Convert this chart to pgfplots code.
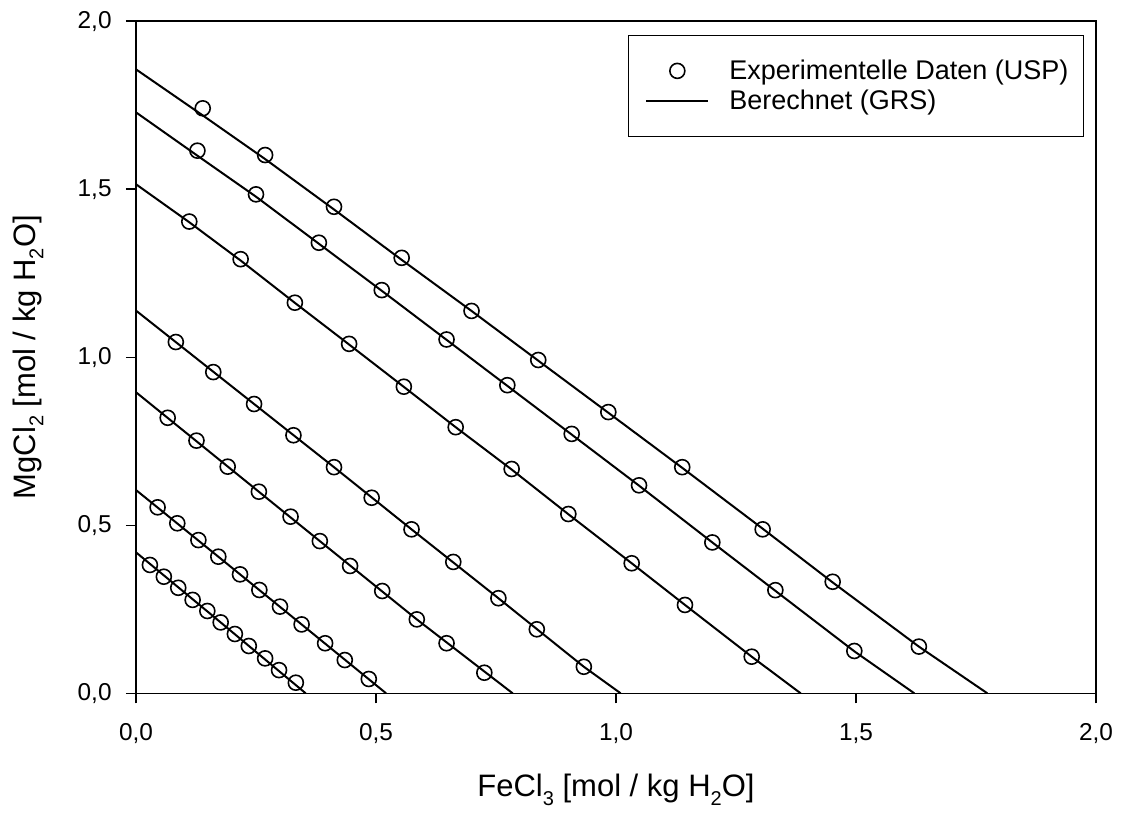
\documentclass[border=0pt]{standalone}
\usepackage{fontspec}
\setmainfont{Liberation Sans}
\usepackage{pgfplots}
\pgfplotsset{compat=1.18}
\newcommand\sub[1]{\raisebox{-0.27em}{\fontsize{10}{12}\selectfont #1}}
\begin{document}
\begin{tikzpicture}
\useasboundingbox (-68pt,-60.35pt) rectangle (493pt,346.65pt);
\begin{axis}[
  at={(0pt,0pt)}, anchor=south west,
  scale only axis, width=480pt, height=336pt,
  xmin=0, xmax=2, ymin=0, ymax=2,
  xtick={0,0.5,1,1.5,2}, ytick={0,0.5,1,1.5,2},
  xticklabels={{0,0},{0,5},{1,0},{1,5},{2,0}},
  yticklabels={{0,0},{0,5},{1,0},{1,5},{2,0}},
  minor tick num=0,
  tick align=outside, major tick length=5pt,
  xtick pos=left, ytick pos=left,
  axis line style={line width=0.8pt, black},
  every tick/.style={black, line width=0.8pt},
  xticklabel style={inner sep=0pt, anchor=north, font=\fontsize{12.2}{14}\selectfont},
  yticklabel style={inner sep=0pt, anchor=east, font=\fontsize{12.2}{14}\selectfont},
  xticklabel shift=10pt,
  yticklabel shift=7pt,
  xlabel={FeCl\sub{3} [mol / kg H\sub{2}O]},
  ylabel={MgCl\sub{2} [mol / kg H\sub{2}O]},
  xlabel style={at={(axis description cs:0.5,-0.1539)}, anchor=base, inner sep=0pt, font=\fontsize{15.5}{18}\selectfont},
  ylabel style={at={(axis description cs:-0.1052,0.5)}, anchor=base, inner sep=0pt, font=\fontsize{15.5}{18}\selectfont},
  legend style={at={(0.9878,0.9796)}, anchor=north east, draw=black, line width=0.6pt, fill=white,
    inner xsep=5.65pt, inner ysep=10pt, row sep=0pt, font=\fontsize{13.5}{16}\selectfont,
    cells={inner xsep=0pt},
    /tikz/every odd column/.append style={column sep=8pt}},
  legend cell align=left,
  mk/.style={only marks, mark=o, mark size=3.75pt, black, mark options={line width=0.8pt},
    legend image code/.code={\path[draw=none] (-3.5pt,0pt) -- (30.9pt,0pt); \draw[##1, mark=o, mark size=3.75pt] plot[only marks] coordinates {(15.45pt,0pt)};}},
  ln/.style={no marks, black, line width=1pt,
    legend image code/.code={\path[draw=none] (-3.5pt,0pt) -- (30.9pt,0pt); \draw[##1] (0pt,0pt) -- (30.9pt,0pt);}},
]
% series 1
\addplot[mk] coordinates {(0.139,1.741) (0.269,1.602) (0.4125,1.448) (0.5535,1.296) (0.699,1.138) (0.838,0.992) (0.984,0.837) (1.138,0.673) (1.3055,0.488) (1.4514,0.332) (1.631,0.139)};
\addlegendentry{Experimentelle Daten (USP)}
\addplot[ln] coordinates {(0,1.857) (0.14,1.719) (0.269,1.59) (0.4125,1.44) (0.5535,1.29) (0.699,1.138) (0.838,0.99) (0.984,0.835) (1.138,0.671) (1.3055,0.49) (1.4514,0.33) (1.631,0.139) (1.7736,0)};
\addlegendentry{Berechnet (GRS)}
% series 2
\addplot[mk, forget plot] coordinates {(0.128,1.615) (0.250,1.485) (0.381,1.341) (0.512,1.200) (0.647,1.053) (0.7736,0.917) (0.9077,0.772) (1.048,0.619) (1.2007,0.449) (1.332,0.307) (1.4965,0.126)};
\addplot[ln, forget plot] coordinates {(0,1.729) (0.128,1.60) (0.25,1.478) (0.381,1.338) (0.512,1.198) (0.647,1.052) (0.7736,0.915) (0.9077,0.77) (1.048,0.618) (1.2007,0.449) (1.332,0.305) (1.4965,0.125) (1.6215,0)};
% series 3
\addplot[mk, forget plot] coordinates {(0.111,1.404) (0.218,1.292) (0.331,1.1625) (0.444,1.040) (0.558,0.9125) (0.666,0.792) (0.7826,0.6676) (0.9007,0.5336) (1.0327,0.387) (1.1437,0.263) (1.2827,0.109)};
\addplot[ln, forget plot] coordinates {(0,1.515) (0.111,1.402) (0.218,1.288) (0.331,1.162) (0.444,1.038) (0.558,0.912) (0.666,0.792) (0.7826,0.666) (0.9007,0.533) (1.0327,0.387) (1.1437,0.263) (1.2827,0.109) (1.3847,0)};
% series 4
\addplot[mk, forget plot] coordinates {(0.083,1.0455) (0.161,0.956) (0.246,0.861) (0.328,0.768) (0.4125,0.673) (0.491,0.582) (0.574,0.488) (0.661,0.391) (0.755,0.283) (0.835,0.1905) (0.933,0.079)};
\addplot[ln, forget plot] coordinates {(0,1.139) (0.246,0.861) (0.4125,0.673) (0.574,0.488) (0.755,0.283) (0.933,0.079) (1.0097,0)};
% series 5
\addplot[mk, forget plot] coordinates {(0.066,0.820) (0.126,0.752) (0.191,0.6745) (0.256,0.600) (0.322,0.5257) (0.383,0.453) (0.446,0.379) (0.513,0.3045) (0.585,0.220) (0.647,0.149) (0.7257,0.0613)};
\addplot[ln, forget plot] coordinates {(0,0.896) (0.191,0.675) (0.383,0.453) (0.585,0.22) (0.7847,0)};
% series 6
\addplot[mk, forget plot] coordinates {(0.045,0.5535) (0.086,0.506) (0.130,0.456) (0.1715,0.4066) (0.2167,0.354) (0.257,0.3075) (0.300,0.258) (0.345,0.205) (0.394,0.149) (0.435,0.099) (0.485,0.0426)};
\addplot[ln, forget plot] coordinates {(0,0.605) (0.1715,0.4066) (0.345,0.205) (0.521,0)};
% series 7
\addplot[mk, forget plot] coordinates {(0.029,0.382) (0.058,0.347) (0.088,0.314) (0.118,0.278) (0.1486,0.245) (0.1764,0.211) (0.206,0.1765) (0.235,0.1408) (0.269,0.104) (0.298,0.069) (0.333,0.0316)};
\addplot[ln, forget plot] coordinates {(0,0.4196) (0.1764,0.211) (0.3535,0)};
\end{axis}
\end{tikzpicture}
\end{document}
